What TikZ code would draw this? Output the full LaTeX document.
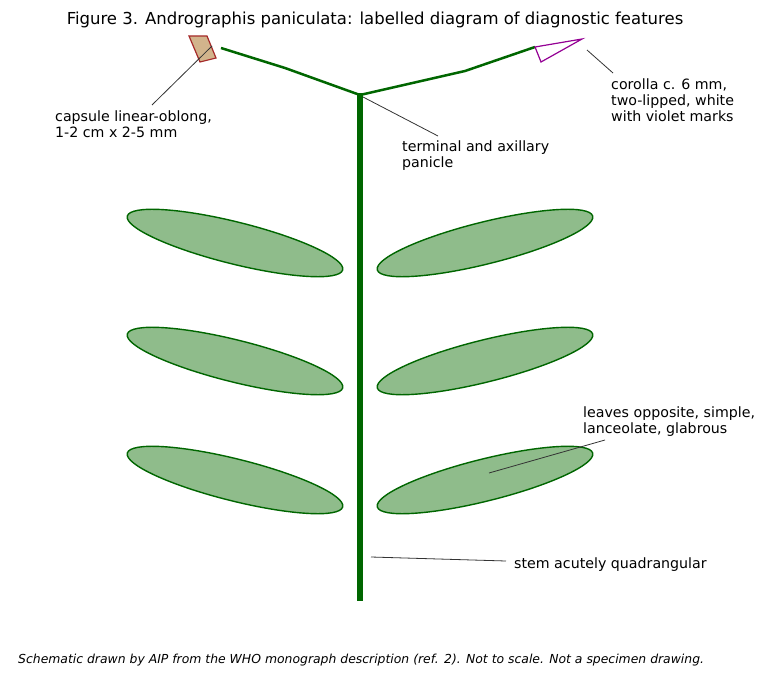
\documentclass[tikz,border=0pt]{standalone}
\usepackage{fontspec}
\setmainfont{DejaVu Sans}
\begin{document}
\begin{tikzpicture}[x=1pt,y=-1pt,
 leaf/.style={draw=green!40!black,fill={rgb,255:red,143;green,188;blue,139},line width=1.4pt},
 br/.style={draw=green!40!black,line width=2.5pt},
 lead/.style={draw=black!80,line width=0.8pt},
 lbl/.style={font=\fontsize{14.2}{15.6}\selectfont,align=left,inner sep=0pt}]
\useasboundingbox (0,0) rectangle (768,679);
\node[font=\fontsize{16.5}{18}\selectfont] (title) at (375,20) {Figure 3. Andrographis paniculata: labelled diagram of diagnostic features};
\coordinate (lb) at (221,48); \coordinate (lm) at (285,68); \coordinate (j) at (360,95);
\coordinate (rm) at (465,71); \coordinate (rb) at (535,47);
\draw[br] (lb) -- (lm) -- (j) -- (rm) -- (rb);
\coordinate (st) at (360,93); \coordinate (sb) at (360,601);
\draw[draw=green!40!black,line width=6pt] (st) -- (sb);
\foreach \y in {243,361,480}{
 \draw[leaf] (235,\y) ellipse[x radius=111,y radius=21,rotate=-14];
 \draw[leaf] (485,\y) ellipse[x radius=111,y radius=21,rotate=14];
}
\draw[draw={rgb,255:red,165;green,42;blue,42},fill={rgb,255:red,210;green,180;blue,140},line width=1.2pt] (189,36) -- (207,36) -- (216,58) -- (200,62) -- cycle;
\draw[draw={rgb,255:red,148;green,0;blue,148},line width=1.2pt] (535,47) -- (582,39) -- (541,62) -- cycle;
\node[lbl,anchor=north west] (cap) at (55,111) {capsule linear-oblong,\\1-2 cm x 2-5 mm};
\draw[lead] (152,105) -- (212,46);
\node[lbl,anchor=north west] (pan) at (402,141) {terminal and axillary\\panicle};
\draw[lead] (438,136) -- (363,97);
\node[lbl,anchor=north west] (cor) at (611,79) {corolla c. 6 mm,\\two-lipped, white\\with violet marks};
\draw[lead] (613,73) -- (587,50);
\node[lbl,anchor=north west] (lv) at (583,407) {leaves opposite, simple,\\lanceolate, glabrous};
\draw[lead] (605,440) -- (489,473);
\node[lbl,anchor=west] (stl) at (514,565) {stem acutely quadrangular};
\draw[lead] (506,561) -- (371,557);
\node[font=\itshape\fontsize{12.4}{14}\selectfont,anchor=west,inner sep=0pt] (cap2) at (18,660) {Schematic drawn by AIP from the WHO monograph description (ref. 2). Not to scale. Not a specimen drawing.};
\end{tikzpicture}
\end{document}
